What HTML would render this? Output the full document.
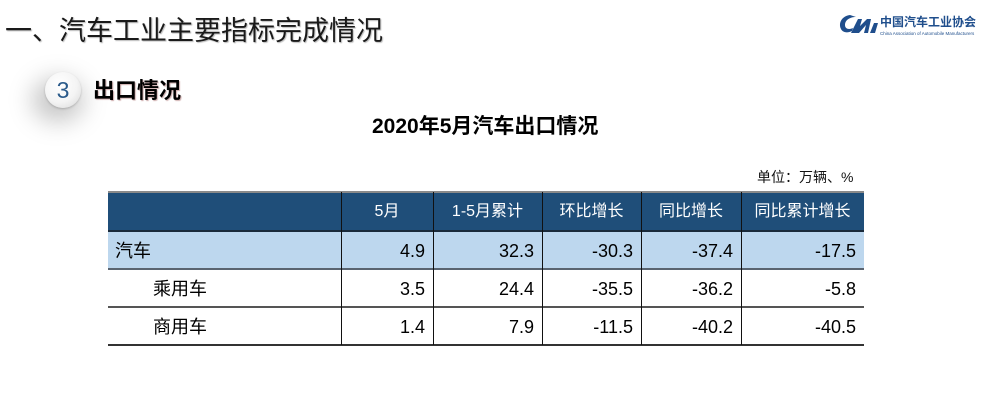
<!DOCTYPE html>
<html><head><meta charset="utf-8">
<style>
html,body{margin:0;padding:0;}
body{width:982px;height:411px;background:#fff;position:relative;overflow:hidden;font-family:"Liberation Sans","Noto Sans CJK SC",sans-serif;}
.a{position:absolute;white-space:nowrap;}
.h{position:absolute;background:#1f4e79;color:#fff;font-size:16px;text-align:center;line-height:39px;top:192px;height:39px;}
.c{position:absolute;font-size:18px;color:#000;text-align:right;box-sizing:border-box;padding-right:8px;line-height:38px;height:38px;}
.vl{position:absolute;width:1px;background:#111;}
.hl{position:absolute;left:108px;width:756px;height:1px;}
</style></head><body>
<div class="a" style="left:5px;top:15px;font-size:27px;line-height:32px;color:#1a1a1a;text-shadow:1px 1px 1px #bbb;">一、汽车工业主要指标完成情况</div>

<!-- logo -->
<svg class="a" style="left:838px;top:12px;" width="42" height="24" viewBox="0 0 42 24">
<path d="M12 3 C4 4 0 11 3 17 C5 21 10 21 14 19 L15 16 C11 18 7 17 7 13 C7 8 12 5 18 5 Z" fill="#1f4e8c"/>
<path d="M13 21 L20 7 L24 7 L22 14 L29 7 L33 7 L30 21 L26 21 L28 13 L21 21 Z" fill="#1f4e8c"/>
<path d="M32 21 L36 11 L40 11 L37 21 Z" fill="#1f4e8c"/>
</svg>
<div class="a" style="left:880px;top:14px;font-size:12px;font-weight:bold;color:#1f4e8c;line-height:16px;">中国汽车工业协会</div>
<div class="a" style="left:880px;top:31px;font-size:4.5px;color:#1f4e8c;line-height:6px;">China Association of Automobile Manufacturers</div>

<!-- section marker -->
<div class="a" style="left:32px;top:78px;width:52px;height:44px;border-radius:50%;background:rgba(0,0,0,0.22);filter:blur(12px);"></div>
<div class="a" style="left:45px;top:72px;width:36px;height:36px;border-radius:50%;background:radial-gradient(circle at 40% 35%,#ffffff 0%,#f4f4f4 55%,#d6d6d6 100%);box-shadow:0 1px 2px rgba(0,0,0,0.2);"></div>
<div class="a" style="left:45px;top:72px;width:36px;height:36px;line-height:36px;text-align:center;font-size:23px;color:#2a5a8a;">3</div>
<div class="a" style="left:93px;top:78px;font-size:22px;font-weight:bold;line-height:26px;color:#000;text-shadow:1px 1px 1px #caa;">出口情况</div>

<div class="a" style="left:372px;top:114px;font-size:21px;font-weight:bold;line-height:26px;color:#000;">2020年5月汽车出口情况</div>
<div class="a" style="left:757px;top:168px;font-size:14px;line-height:18px;color:#111;">单位：万辆、%</div>

<!-- header -->
<div class="h" style="left:108px;width:233px;"></div>
<div class="h" style="left:341px;width:92px;">5月</div>
<div class="h" style="left:433px;width:109px;">1-5月累计</div>
<div class="h" style="left:542px;width:99px;">环比增长</div>
<div class="h" style="left:641px;width:100px;">同比增长</div>
<div class="h" style="left:741px;width:123px;">同比累计增长</div>

<!-- row1 bg -->
<div class="a" style="left:108px;top:231px;width:756px;height:38px;background:#bdd7ee;"></div>

<!-- rows -->
<div class="c" style="left:108px;top:232px;width:233px;text-align:left;padding-left:7px;">汽车</div>
<div class="c" style="left:341px;top:232px;width:92px;">4.9</div>
<div class="c" style="left:433px;top:232px;width:109px;">32.3</div>
<div class="c" style="left:542px;top:232px;width:99px;">-30.3</div>
<div class="c" style="left:641px;top:232px;width:100px;">-37.4</div>
<div class="c" style="left:741px;top:232px;width:123px;">-17.5</div>

<div class="c" style="left:108px;top:270px;width:233px;text-align:left;padding-left:45px;">乘用车</div>
<div class="c" style="left:341px;top:270px;width:92px;">3.5</div>
<div class="c" style="left:433px;top:270px;width:109px;">24.4</div>
<div class="c" style="left:542px;top:270px;width:99px;">-35.5</div>
<div class="c" style="left:641px;top:270px;width:100px;">-36.2</div>
<div class="c" style="left:741px;top:270px;width:123px;">-5.8</div>

<div class="c" style="left:108px;top:308px;width:233px;text-align:left;padding-left:45px;">商用车</div>
<div class="c" style="left:341px;top:308px;width:92px;">1.4</div>
<div class="c" style="left:433px;top:308px;width:109px;">7.9</div>
<div class="c" style="left:542px;top:308px;width:99px;">-11.5</div>
<div class="c" style="left:641px;top:308px;width:100px;">-40.2</div>
<div class="c" style="left:741px;top:308px;width:123px;">-40.5</div>

<!-- horizontal lines -->
<div class="hl" style="top:191px;height:2px;background:#8a8a8a;"></div>
<div class="hl" style="top:230px;height:2px;background:#1a2a3a;"></div>
<div class="hl" style="top:268px;height:2px;background:#5a6470;"></div>
<div class="hl" style="top:306px;height:2px;background:#555;"></div>
<div class="hl" style="top:344px;height:2px;background:#333;"></div>

<!-- vertical lines -->
<div class="vl" style="left:341px;top:192px;height:153px;"></div>
<div class="vl" style="left:433px;top:192px;height:153px;"></div>
<div class="vl" style="left:542px;top:192px;height:153px;"></div>
<div class="vl" style="left:641px;top:192px;height:153px;"></div>
<div class="vl" style="left:741px;top:192px;height:153px;"></div>
</body></html>
